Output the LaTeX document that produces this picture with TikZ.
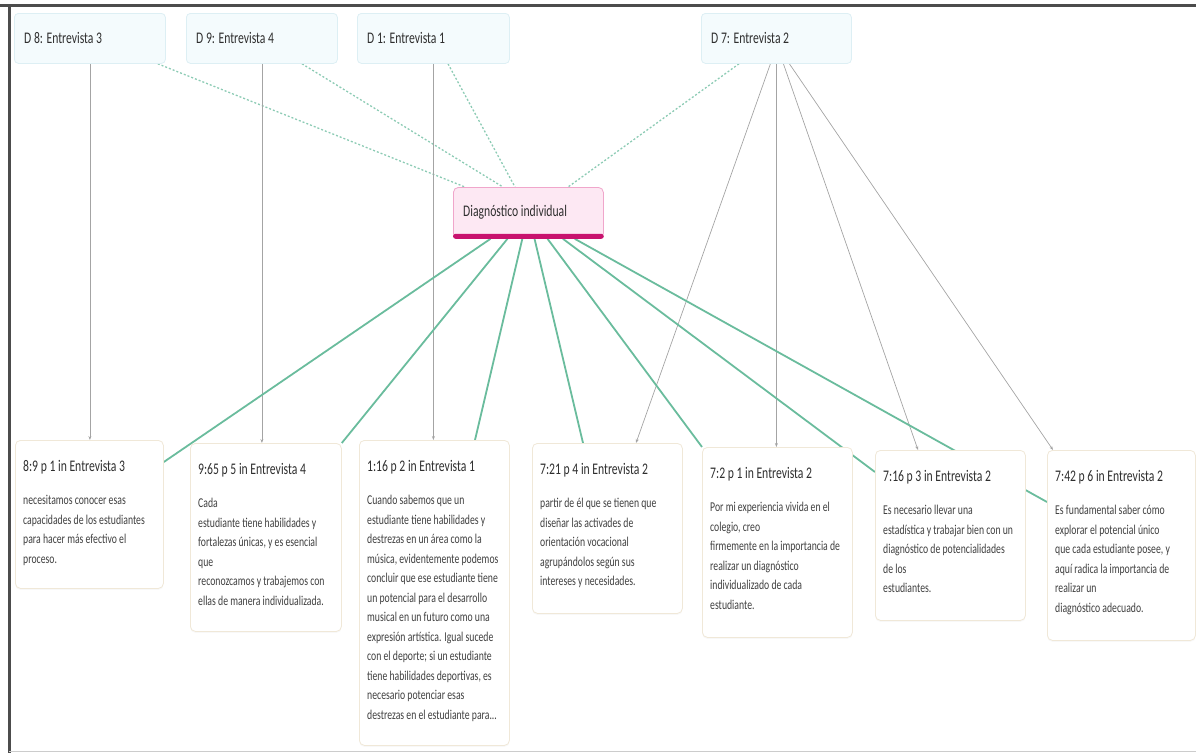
\documentclass[tikz,border=0pt]{standalone}
\usepackage{fontspec}
\setmainfont[FakeStretch=0.72]{Carlito}
\usetikzlibrary{calc,arrows.meta,shadows}
\pgfdeclarelayer{bg}
\pgfsetlayers{bg,main}
\definecolor{grline}{HTML}{6ABC9D}
\definecolor{grdash}{HTML}{8CCBB4}
\definecolor{grayln}{HTML}{A4A4A4}
\definecolor{topfill}{HTML}{F4FBFD}
\definecolor{topdraw}{HTML}{DDEFF4}
\definecolor{cfill}{HTML}{FDE8F3}
\definecolor{cdraw}{HTML}{F0A6CB}
\definecolor{cbar}{HTML}{C8126E}
\definecolor{qdraw}{HTML}{F0E8D8}
\definecolor{ttlcol}{HTML}{2E2E2E}
\definecolor{bdycol}{HTML}{404040}
\newcommand\qtitle{\fontsize{16.2}{19}\selectfont}
\newcommand\qbody{\fontsize{13.5}{19.5}\selectfont}
\begin{document}
\begin{tikzpicture}[x=1pt,y=-1pt,
  docbox/.style={draw=topdraw,fill=topfill,rounded corners=4pt,line width=0.8pt,
    minimum height=50pt,anchor=north west,inner sep=0pt},
  doclabel/.style={anchor=west,inner sep=0pt,font=\qtitle,text=ttlcol},
  quotebox/.style={draw=qdraw,fill=white,rounded corners=5pt,line width=0.8pt,
    anchor=north west,inner sep=0pt,
    drop shadow={opacity=0.06,shadow xshift=0pt,shadow yshift=-1.5pt}},
  quotetext/.style={anchor=north west,inner sep=0pt,align=left,font=\qbody,text=bdycol},
  grayarrow/.style={draw=grayln,line width=0.7pt,-{Stealth[length=4pt,width=3pt]}},
  greenline/.style={draw=grline,line width=1.8pt},
  greendash/.style={draw=grdash,line width=1.3pt,dash pattern=on 2pt off 2pt}]
\useasboundingbox (0,0) rectangle (1196,753);
% frame
\draw[black!70,line width=3pt] (0,5) -- (1196,5);
\draw[black!70,line width=3pt] (9,5) -- (9,753);
\draw[black!20,line width=1.5pt] (9,751.5) -- (1196,751.5);

% top document boxes
\node[docbox,minimum width=151pt] (d8) at (14,13) {};
\node[doclabel] (d8l) at ($(d8.west)+(10,0)$) {D 8: Entrevista 3};
\node[docbox,minimum width=151pt] (d9) at (186,13) {};
\node[doclabel] (d9l) at ($(d9.west)+(10,0)$) {D 9: Entrevista 4};
\node[docbox,minimum width=152pt] (d1) at (357,13) {};
\node[doclabel] (d1l) at ($(d1.west)+(10,0)$) {D 1: Entrevista 1};
\node[docbox,minimum width=150pt] (d7) at (701,13) {};
\node[doclabel] (d7l) at ($(d7.west)+(10,0)$) {D 7: Entrevista 2};

% central code
\node[draw=cdraw,fill=cfill,rounded corners=5pt,line width=0.8pt,anchor=north west,
  minimum width=150pt,minimum height=51pt,inner sep=0pt] (c) at (453,187) {};
\fill[cbar,rounded corners=2.5pt] ($(c.south west)+(0,-5)$) rectangle (c.south east);
\node[doclabel] (cl) at ($(c.west)+(10,-1)$) {Diagnóstico individual};

% quotation boxes
\node[quotebox,minimum width=148pt,minimum height=148pt] (b1) at (15,440) {};
\node[quotetext] (t1) at ($(b1.north west)+(8,20)$) {{\qtitle\color{ttlcol}8:9 p 1 in Entrevista 3}\\[14pt]
necesitamos conocer esas\\capacidades de los estudiantes\\para hacer más efectivo el\\proceso.};

\node[quotebox,minimum width=151pt,minimum height=188pt] (b2) at (190,443) {};
\node[quotetext] (t2) at ($(b2.north west)+(8,20)$) {{\qtitle\color{ttlcol}9:65 p 5 in Entrevista 4}\\[14pt]
Cada\\estudiante tiene habilidades y\\fortalezas únicas, y es esencial\\que\\reconozcamos y trabajemos con\\ellas de manera individualizada.};

\node[quotebox,minimum width=150pt,minimum height=305pt] (b3) at (359,440) {};
\node[quotetext] (t3) at ($(b3.north west)+(8,20)$) {{\qtitle\color{ttlcol}1:16 p 2 in Entrevista 1}\\[14pt]
Cuando sabemos que un\\estudiante tiene habilidades y\\destrezas en un área como la\\música, evidentemente podemos\\concluir que ese estudiante tiene\\un potencial para el desarrollo\\musical en un futuro como una\\expresión artística. Igual sucede\\con el deporte; si un estudiante\\tiene habilidades deportivas, es\\necesario potenciar esas\\destrezas en el estudiante para...};

\node[quotebox,minimum width=150pt,minimum height=170pt] (b4) at (532,443) {};
\node[quotetext] (t4) at ($(b4.north west)+(8,20)$) {{\qtitle\color{ttlcol}7:21 p 4 in Entrevista 2}\\[14pt]
partir de él que se tienen que\\diseñar las activades de\\orientación vocacional\\agrupándolos según sus\\intereses y necesidades.};

\node[quotebox,minimum width=150pt,minimum height=190pt] (b5) at (702,447) {};
\node[quotetext] (t5) at ($(b5.north west)+(8,20)$) {{\qtitle\color{ttlcol}7:2 p 1 in Entrevista 2}\\[14pt]
Por mi experiencia vivida en el\\colegio, creo\\firmemente en la importancia de\\realizar un diagnóstico\\individualizado de cada\\estudiante.};

\node[quotebox,minimum width=150pt,minimum height=170pt] (b6) at (875,450) {};
\node[quotetext] (t6) at ($(b6.north west)+(8,20)$) {{\qtitle\color{ttlcol}7:16 p 3 in Entrevista 2}\\[14pt]
Es necesario llevar una\\estadística y trabajar bien con un\\diagnóstico de potencialidades\\de los\\estudiantes.};

\node[quotebox,minimum width=148pt,minimum height=190pt] (b7) at (1047,450) {};
\node[quotetext] (t7) at ($(b7.north west)+(8,20)$) {{\qtitle\color{ttlcol}7:42 p 6 in Entrevista 2}\\[14pt]
Es fundamental saber cómo\\explorar el potencial único\\que cada estudiante posee, y\\aquí radica la importancia de\\realizar un\\diagnóstico adecuado.};

% connectors behind boxes
\begin{pgfonlayer}{bg}
\draw[greendash] ($(d8.south east)+(-8,0)$) -- ($(c.north west)+(12,0)$);
\draw[greendash] ($(d9.south west)+(116,0)$) -- ($(c.north west)+(50,0)$);
\draw[greendash] ($(d1.south west)+(91,0)$) -- ($(c.north west)+(62,0)$);
\draw[greendash] ($(d7.south west)+(38,0)$) -- ($(c.north west)+(115,0)$);

\draw[grayarrow] (d8.south) -- (d8.south |- b1.north);
\draw[grayarrow] (d9.south) -- (d9.south |- b2.north);
\draw[grayarrow] (d1.south) -- (d1.south |- b3.north);
\draw[grayarrow] ($(d7.south)+(-6,0)$) -- ($(b4.north west)+(104,0)$);
\draw[grayarrow] (d7.south) -- (d7.south |- b5.north);
\draw[grayarrow] ($(d7.south)+(7,0)$) -- ($(b6.north west)+(43,0)$);
\draw[grayarrow] ($(d7.south)+(13,0)$) -- ($(b7.north west)+(6,0)$);

\draw[greenline] (c) -- ($(b1.north east)+(0,22)$);
\draw[greenline] (c) -- (b2.north east);
\draw[greenline] (c) -- ($(b3.north west)+(116,0)$);
\draw[greenline] (c) -- ($(b4.north west)+(51,0)$);
\draw[greenline] (c) -- (b5.north west);
\draw[greenline] (c) -- ($(b6.north west)+(0,22)$);
\draw[greenline] (c) -- ($(b7.north west)+(0,52)$);
\end{pgfonlayer}
\end{tikzpicture}
\end{document}
